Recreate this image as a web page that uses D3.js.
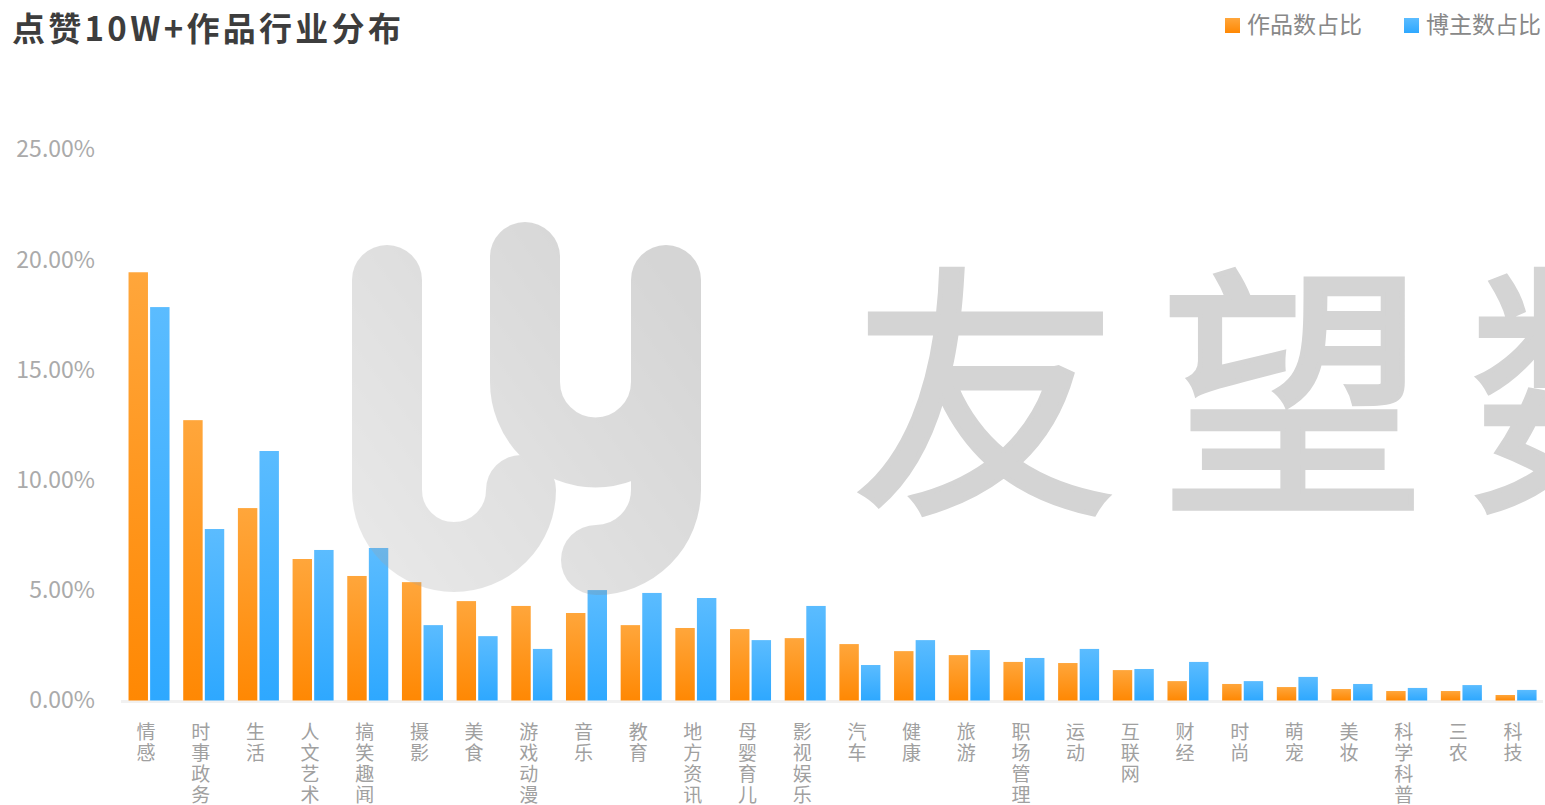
<!DOCTYPE html>
<html><head><meta charset="utf-8">
<script src="https://cdn.jsdelivr.net/npm/d3@7"></script>
<style>
html,body{margin:0;padding:0;background:#fff;}
svg{display:block;font-family:"Noto Sans CJK SC","Noto Sans",sans-serif;}
</style></head>
<body><svg id="c" width="1545" height="805"></svg>
<script>
const categories = ["情感","时事政务","生活","人文艺术","搞笑趣闻","摄影","美食","游戏动漫","音乐","教育","地方资讯","母婴育儿","影视娱乐","汽车","健康","旅游","职场管理","运动","互联网","财经","时尚","萌宠","美妆","科学科普","三农","科技"];
const worksShare = [19.43,12.72,8.73,6.42,5.65,5.37,4.51,4.29,3.97,3.42,3.29,3.24,2.83,2.56,2.24,2.06,1.75,1.70,1.38,0.88,0.75,0.61,0.52,0.43,0.43,0.25];
const bloggerShare = [17.85,7.78,11.32,6.83,6.92,3.42,2.92,2.34,5.01,4.88,4.65,2.74,4.29,1.61,2.74,2.29,1.93,2.34,1.43,1.75,0.88,1.07,0.75,0.57,0.70,0.48];
const seriesNames = ["作品数占比","博主数占比"];
const yTicks = [0,5,10,15,20,25];
const titleText = "点赞10W+作品行业分布";

const svg = d3.select("#c");
const defs = svg.append("defs");
function grad(id, top, bottom){
  const g = defs.append("linearGradient").attr("id",id).attr("x1",0).attr("y1",0).attr("x2",0).attr("y2",1);
  g.append("stop").attr("offset","0%").attr("stop-color",top);
  g.append("stop").attr("offset","100%").attr("stop-color",bottom);
}
grad("gO","#ffa63b","#ff8803");
grad("gB","#5bbcff","#2ea8ff");
const wg = defs.append("linearGradient").attr("id","gW").attr("gradientUnits","userSpaceOnUse")
  .attr("x1",350).attr("y1",560).attr("x2",700).attr("y2",300);
wg.append("stop").attr("offset","0%").attr("stop-color","#a8a8a8");
wg.append("stop").attr("offset","100%").attr("stop-color","#5a5a5a");

const x0 = d3.scaleBand().domain(categories).range([121.7,1543.4]).paddingInner(0.25).paddingOuter(0.125);
const x1 = d3.scaleBand().domain([0,1]).range([0,x0.bandwidth()]).paddingInner(0.1);
const y = d3.scaleLinear().domain([0,25]).range([700.5,149.5]);

// title
svg.append("text").attr("x",12).attr("y",41).attr("font-size",33).attr("letter-spacing",3.3).attr("font-weight","bold").attr("fill","#3d3d3d").text(titleText);

// legend
const legX = [1225,1404], legFill = ["url(#gO)","url(#gB)"];
seriesNames.forEach((n,i)=>{
  svg.append("rect").attr("x",legX[i]).attr("y",18).attr("width",15).attr("height",15).attr("fill",legFill[i]);
  svg.append("text").attr("x",legX[i]+22).attr("y",33).attr("font-size",23).attr("fill","#888").text(n);
});

// y axis
const yAxis = d3.axisLeft(y).tickValues(yTicks).tickFormat(d=>d.toFixed(2)+"%").tickSize(0).tickPadding(0);
const ya = svg.append("g").attr("transform","translate(95,0)").call(yAxis);
ya.select(".domain").remove();
ya.selectAll("text").attr("font-size",23).attr("fill","#aaa").attr("font-family","'Noto Sans CJK SC','Noto Sans',sans-serif");

// baseline
svg.append("rect").attr("x",121).attr("y",700).attr("width",1422).attr("height",3).attr("fill","#f1f1f1");

// bars
const g = svg.append("g");
const data = categories.map((c,i)=>({c, v:[worksShare[i], bloggerShare[i]]}));
const grp = g.selectAll("g").data(data).join("g").attr("transform",d=>`translate(${x0(d.c)},0)`);
grp.selectAll("rect").data(d=>d.v.map((v,k)=>({v,k}))).join("rect")
  .attr("x",d=>x1(d.k)).attr("width",x1.bandwidth())
  .attr("y",d=>y(d.v)).attr("height",d=>y(0)-y(d.v))
  .attr("fill",d=>d.k===0?"url(#gO)":"url(#gB)");

// x labels (vertical)
const xl = svg.append("g");
categories.forEach(c=>{
  const cx = x0(c)+x0.bandwidth()/2 - 3;
  const t = xl.append("text").attr("text-anchor","middle").attr("font-size",19).attr("fill","#a0a0a0");
  [...c].forEach((ch,j)=>{
    t.append("tspan").attr("x",cx).attr("y",739+j*21).text(ch);
  });
});

// watermark
const wm = svg.append("g").attr("pointer-events","none").attr("opacity",0.25);
wm.append("path").attr("d","M387,280 L387,490 A67,67 0 0 0 521,490")
  .attr("fill","none").attr("stroke","url(#gW)").attr("stroke-width",70).attr("stroke-linecap","round");
wm.append("path").attr("d","M525,257 L525,382 A70.5,70.5 0 0 0 666,382 M666,280 L666,490 A70,70 0 0 1 596,560")
  .attr("fill","none").attr("stroke","url(#gW)").attr("stroke-width",70).attr("stroke-linecap","round");
svg.append("text").attr("x",852).attr("y",493).attr("font-size",266).attr("letter-spacing",42)
  .attr("fill","#d4d4d4").attr("stroke","#d4d4d4").attr("stroke-width",5).attr("stroke-linejoin","miter").text("友望数据");
</script></body></html>
